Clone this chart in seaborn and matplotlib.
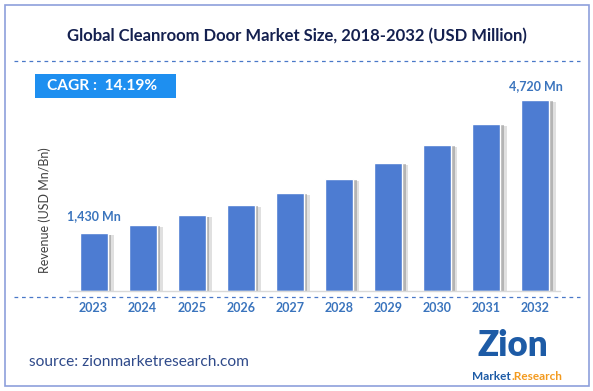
import matplotlib
matplotlib.use("Agg")
import matplotlib.pyplot as plt
import matplotlib.patheffects as pe
from matplotlib.lines import Line2D
from matplotlib.patches import Rectangle
import seaborn as sns
import pandas as pd

years = ["2023", "2024", "2025", "2026", "2027", "2028", "2029", "2030", "2031", "2032"]
revenue = [1430, 1630, 1870, 2130, 2430, 2780, 3170, 3620, 4130, 4720]
first_label = "1,430 Mn"
last_label = "4,720 Mn"
title = "Global Cleanroom Door Market Size, 2018-2032 (USD Million)"
cagr_text = "CAGR :  14.19%"
ylabel = "Revenue (USD Mn/Bn)"
source = "source: zionmarketresearch.com"

sns.set_style("white")
plt.rcParams["font.family"] = ["Lato", "DejaVu Sans"]

W, H = 593, 391
fig = plt.figure(figsize=(W / 100, H / 100), dpi=100)
fig.patch.set_facecolor("white")

def fx(x):
    return x / W

def fy(y):
    return 1 - y / H

# border
fig.add_artist(Rectangle((fx(5), fy(386)), fx(584), (381) / H, transform=fig.transFigure,
                         fill=False, edgecolor="#8d9fdc", linewidth=1.2))

# title
fig.text(fx(297), fy(36), title, ha="center", va="center", fontsize=12,
         fontweight="bold", color="#14204f")
fig.add_artist(Line2D([fx(14), fx(580)], [fy(61), fy(61)], transform=fig.transFigure,
                      color="#4a78c8", linestyle=(0, (3, 3)), linewidth=0.9))

# CAGR box
fig.add_artist(Rectangle((fx(35), fy(98)), fx(141), 24 / H, transform=fig.transFigure,
                         facecolor="#1e8ff0", edgecolor="none"))
fig.text(fx(47), fy(86.5), cagr_text, ha="left", va="center", fontsize=11.2,
         fontweight="bold", color="white")

# axes
ax = fig.add_axes([fx(69), fy(291), fx(491), 191 / H])
df = pd.DataFrame({"year": years, "revenue": revenue})
sns.barplot(data=df, x="year", y="revenue", order=years, color="#4d7cd2",
            saturation=1, width=0.57, ax=ax)
for p in ax.patches:
    p.set_path_effects([pe.SimplePatchShadow(offset=(4.5, -1.5), shadow_rgbFace="#9a9a9a", alpha=0.3),
                        pe.SimplePatchShadow(offset=(2.5, -1), shadow_rgbFace="#808080", alpha=0.45),
                        pe.Normal()])
ax.set_xlim(-0.5, len(years) - 0.5)
ax.set_ylim(0, max(revenue))
ax.set_xlabel("")
ax.set_ylabel("")
ax.set_yticks([])
ax.tick_params(axis="x", length=0, pad=8)
for t in ax.get_xticklabels():
    t.set_fontweight("bold")
    t.set_color("#3a74bd")
    t.set_fontsize(9)
for s in ["top", "right", "left"]:
    ax.spines[s].set_visible(False)
ax.spines["bottom"].set_color("#d9d9d9")
ax.spines["bottom"].set_linewidth(1)
ax.patch.set_alpha(0)

ax.annotate(first_label, (0, revenue[0]), xytext=(0, 8), textcoords="offset points",
            ha="center", va="bottom", fontsize=9, fontweight="bold", color="#3a74bd")
ax.annotate(last_label, (len(years) - 1, revenue[-1]), xytext=(0, 6), textcoords="offset points",
            ha="center", va="bottom", fontsize=9, fontweight="bold", color="#3a74bd")

# dashed line under axis
fig.add_artist(Line2D([fx(14), fx(580)], [fy(297), fy(297)], transform=fig.transFigure,
                      color="#4a78c8", linestyle=(0, (3, 3)), linewidth=0.9))

# y label
fig.text(fx(45), fy(210), ylabel, rotation=90, ha="center", va="center",
         fontsize=9, color="#404040")

# source
fig.text(fx(29), fy(362), source, ha="left", va="center", fontsize=11.2, color="#2f4a8a")

# logo
fig.text(fx(513), fy(345), "Zion", ha="center", va="center", fontsize=25,
         fontweight="heavy", color="#1d5ba6")
fig.text(fx(511), fy(376), "Market", ha="right", va="center", fontsize=8.5,
         fontweight="bold", color="#1d5ba6")
fig.text(fx(512), fy(376), ".Research", ha="left", va="center", fontsize=8.5,
         fontweight="bold", color="#f39a1e")

fig.savefig("out.png", dpi=100)
